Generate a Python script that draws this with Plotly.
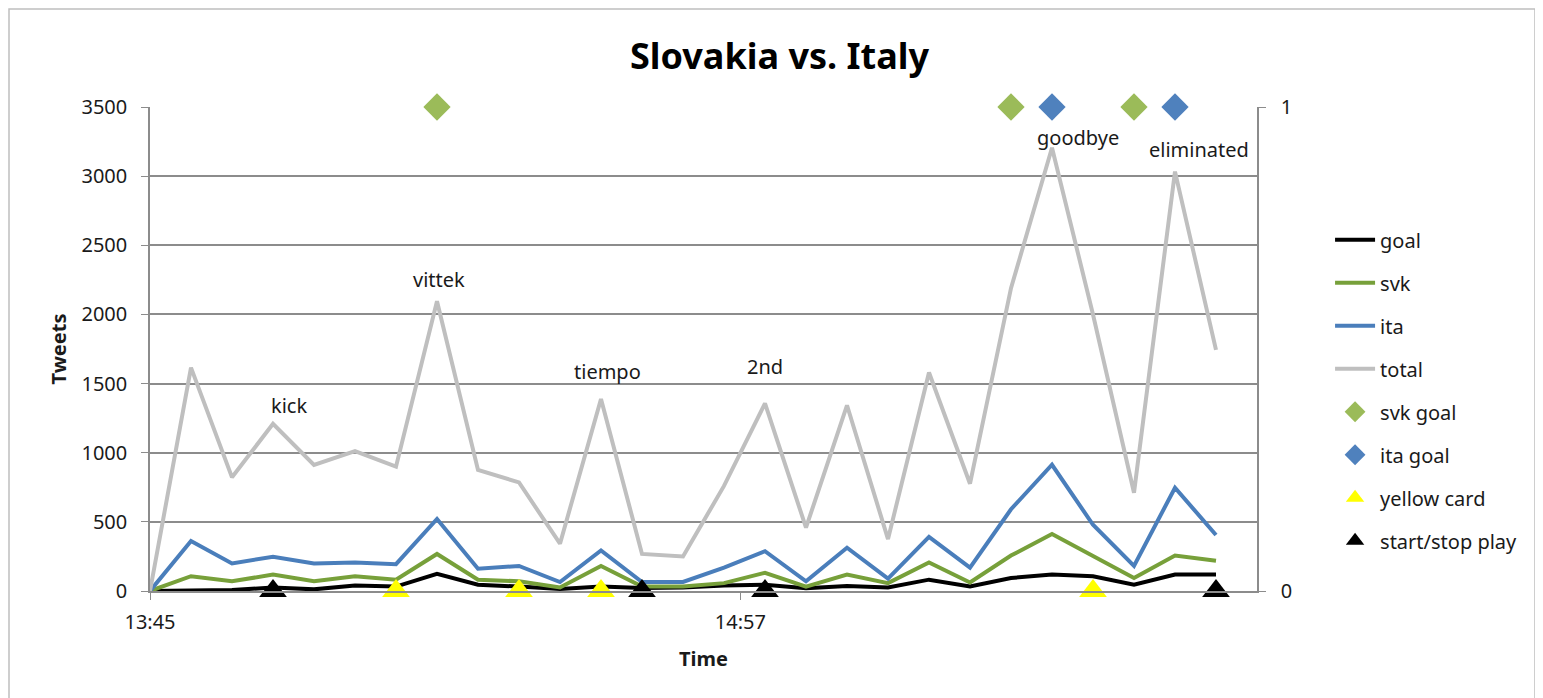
import plotly.graph_objects as go

DAY = "2010-06-24 "

times = ["13:45", "13:50", "13:55", "14:00", "14:05", "14:10", "14:15", "14:20", "14:25",
         "14:30", "14:35", "14:40", "14:45", "14:50", "14:55", "15:00", "15:05", "15:10",
         "15:15", "15:20", "15:25", "15:30", "15:35", "15:40", "15:45", "15:50", "15:55"]

goal = [0, 7, 7, 25, 12, 40, 32, 124, 45, 32, 15, 32, 22, 25, 40, 45, 20, 37,
        25, 82, 32, 94, 119, 107, 45, 119, 119]
svk = [0, 107, 70, 119, 70, 107, 82, 268, 82, 70, 25, 181, 32, 32, 57, 132, 32, 119,
       57, 206, 62, 256, 412, 256, 94, 256, 218]
ita = [0, 362, 199, 248, 199, 206, 194, 521, 161, 181, 65, 293, 65, 65, 169, 288, 70, 313,
       89, 392, 169, 591, 913, 479, 181, 747, 405]
total = [0, 1615, 822, 1209, 912, 1012, 899, 2095, 876, 785, 342, 1389, 268, 250, 760, 1356,
         458, 1343, 375, 1580, 776, 2190, 3205, 2000, 710, 3033, 1744]

svk_goal_times = ["14:20", "15:30", "15:45"]
ita_goal_times = ["15:35", "15:50"]
yellow_card_times = ["14:15", "14:30", "14:40", "15:40"]
start_stop_times = ["14:00", "14:45", "15:00", "15:55"]

label_times = ["14:00", "14:20", "14:40", "15:00", "15:35", "15:50"]
label_texts = ["kick", "vittek", "tiempo", "2nd", "goodbye", "eliminated"]

FONT = "Noto Sans"
GRID = "#8c8c8c"


def ts(lst):
    return [DAY + t for t in lst]


fig = go.Figure()

for name, vals, color in [("goal", goal, "#000000"), ("svk", svk, "#77A03A"),
                          ("ita", ita, "#4A7EBB"), ("total", total, "#BFBFBF")]:
    fig.add_trace(go.Scatter(x=ts(times), y=vals, name=name, mode="lines",
                             line=dict(color=color, width=4), legendgroup=name))

markers = [
    ("svk goal", svk_goal_times, 1, "diamond", "#9BBB59", 21),
    ("ita goal", ita_goal_times, 1, "diamond", "#4F81BD", 21),
    ("yellow card", yellow_card_times, 0, "triangle-up", "#FFFF00", 24),
    ("start/stop play", start_stop_times, 0, "triangle-up", "#000000", 24),
]
for name, tlist, val, sym, color, size in markers:
    fig.add_trace(go.Scatter(x=ts(tlist), y=[val] * len(tlist), name=name, yaxis="y2",
                             mode="markers", cliponaxis=False, legendgroup=name,
                             marker=dict(symbol=sym, color=color, size=size,
                                         line=dict(width=0))))

# data labels above the total line
offsets = {"kick": (16, 18), "vittek": (2, 22), "tiempo": (6, 27), "2nd": (0, 37),
           "goodbye": (26, 10), "eliminated": (24, 22)}
for t, txt in zip(label_times, label_texts):
    v = total[times.index(t)]
    dx, dy = offsets[txt]
    fig.add_annotation(x=DAY + t, y=v, text=txt, showarrow=False, xshift=dx, yshift=dy,
                       font=dict(family=FONT, size=20, color="#1a1a1a"))

fig.update_layout(
    width=1543, height=698,
    paper_bgcolor="white", plot_bgcolor="white",
    margin=dict(l=142, r=294, t=99, b=115),
    font=dict(family=FONT, size=20, color="#1a1a1a"),
    title=dict(text="<b>Slovakia vs. Italy</b>", x=0.5, xref="container", y=0.93,
               xanchor="center", yanchor="middle", font=dict(size=36, color="#000")),
    xaxis=dict(type="date", range=[DAY + "13:45", DAY + "16:00"],
               tickvals=[DAY + "13:45", DAY + "14:57"], tickformat="%H:%M",
               showgrid=False, showline=True, linecolor=GRID, linewidth=1.5,
               ticks="outside", ticklen=7, tickcolor=GRID, ticklabelstandoff=5,
               title=dict(text="<b>Time</b>", font=dict(size=20), standoff=18)),
    yaxis=dict(range=[0, 3500], tickvals=list(range(0, 3501, 500)),
               showgrid=True, gridcolor=GRID, gridwidth=1.5,
               showline=True, linecolor=GRID, linewidth=1.5, zeroline=False,
               ticks="outside", ticklen=7, tickcolor=GRID, ticklabelstandoff=10,
               title=dict(text="<b>Tweets</b>", font=dict(size=20), standoff=9)),
    yaxis2=dict(range=[0, 1], tickvals=[0, 1], overlaying="y", side="right",
                showgrid=False, showline=True, linecolor=GRID, linewidth=1.5,
                zeroline=False, ticks="outside", ticklen=7, tickcolor=GRID,
                ticklabelstandoff=11),
    legend=dict(x=1.066, y=0.766, xanchor="left", yanchor="top", tracegroupgap=14,
                font=dict(size=20), itemwidth=40, bgcolor="rgba(0,0,0,0)"),
    showlegend=True,
)

# outer chart border
fig.add_shape(type="rect", xref="paper", yref="paper",
              x0=(1 - 142) / 1107, x1=(1527 - 142) / 1107,
              y0=(583 - 697) / 484, y1=(583 - 1) / 484,
              line=dict(color="#bfbfbf", width=1.5), layer="below")

fig.write_html("out.html")
